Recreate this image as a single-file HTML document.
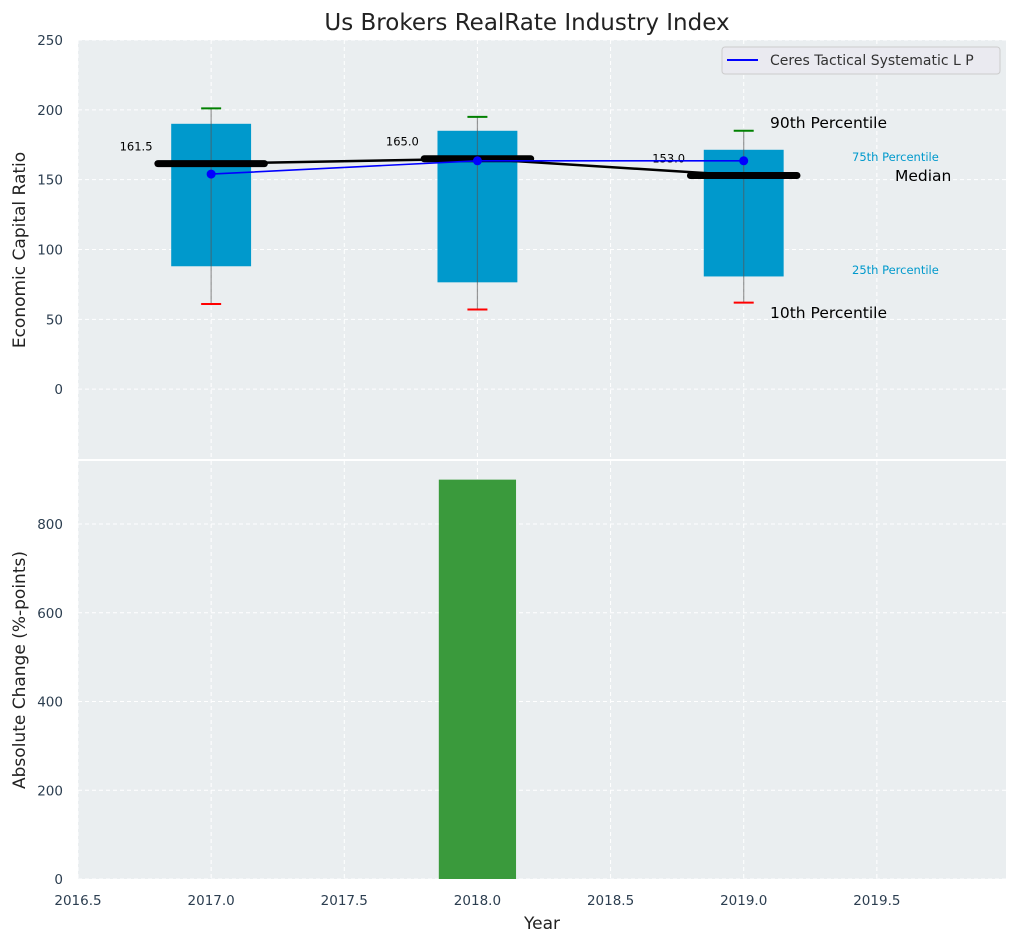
<!DOCTYPE html>
<html><head><meta charset="utf-8">
<style>
body{margin:0;background:#fff;}
svg{font-family:"DejaVu Sans","Liberation Sans",sans-serif;}
</style></head>
<body>
<svg id="chart" width="1016" height="942" xmlns="http://www.w3.org/2000/svg">
<text x="527" y="30" text-anchor="middle" font-size="23" fill="#222">Us Brokers RealRate Industry Index</text>
<g id="topg"></g>
<g id="botg"></g>
</svg>
<script>
const years=[2017,2018,2019];
const p10=[61,57,62];
const p25=[88,76.5,80.7];
const p75=[190,185,171.4];
const p90=[201,195,185];
const medians=[161.5,165.0,153.0];
const company=[154,163.5,163.5];
const changeYears=[2018];
const changeVals=[900];
const xTicks=[2016.5,2017,2017.5,2018,2018.5,2019,2019.5];
const yTopTicks=[0,50,100,150,200,250];
const yBotTicks=[0,200,400,600,800];

const NS="http://www.w3.org/2000/svg";
const X0=78,X1=1006;
const x=v=>X0+(v-2016.5)*(X1-X0)/(2019.985-2016.5);
const yT=v=>40+(250-v)*(459-40)/300;
const yB=v=>879-v*(879-461)/942;
function el(p,t,a,txt){const e=document.createElementNS(NS,t);for(const k in a)e.setAttribute(k,a[k]);if(txt!==undefined)e.textContent=txt;p.appendChild(e);return e;}
const gTop=document.getElementById('topg'),gBot=document.getElementById('botg');

let r=el(gTop,'rect',{x:X0,y:40,width:X1-X0,height:419,fill:'#eaeef0'});


r=el(gBot,'rect',{x:X0,y:461,width:X1-X0,height:418,fill:'#eaeef0'});



xTicks.forEach(t=>{
 el(gTop,'line',{x1:x(t),x2:x(t),y1:40,y2:459,stroke:'#fff','stroke-dasharray':'4,3','stroke-width':1});
 el(gBot,'line',{x1:x(t),x2:x(t),y1:461,y2:879,stroke:'#fff','stroke-dasharray':'4,3','stroke-width':1});
 const tl=el(gBot,'text',{x:x(t),y:905,'text-anchor':'middle','font-size':13.5,fill:'#2c3e50'},t.toFixed(1));
 
 
});
yTopTicks.forEach(t=>{
 el(gTop,'line',{x1:X0,x2:X1,y1:yT(t),y2:yT(t),stroke:'#fff','stroke-dasharray':'4,3'});
 const tl=el(gTop,'text',{x:63,y:yT(t)+5,'text-anchor':'end','font-size':13.5,fill:'#2c3e50'},t);
 
 
});
yBotTicks.forEach(t=>{
 el(gBot,'line',{x1:X0,x2:X1,y1:yB(t),y2:yB(t),stroke:'#fff','stroke-dasharray':'4,3'});
 const tl=el(gBot,'text',{x:63,y:yB(t)+5,'text-anchor':'end','font-size':13.5,fill:'#2c3e50'},t);
 
 
});

const bw=0.3;
years.forEach((yr,i)=>{
 const b=el(gTop,'rect',{x:x(yr-bw/2),y:yT(p75[i]),width:x(yr+bw/2)-x(yr-bw/2),height:yT(p25[i])-yT(p75[i]),fill:'#0099cc'});
 
 
 el(gTop,'line',{x1:x(yr),x2:x(yr),y1:yT(p90[i]),y2:yT(p10[i]),stroke:'#555','stroke-opacity':0.6,'stroke-width':1.2});
 el(gTop,'line',{x1:x(yr)-10,x2:x(yr)+10,y1:yT(p90[i]),y2:yT(p90[i]),stroke:'green','stroke-width':2});
 el(gTop,'line',{x1:x(yr)-10,x2:x(yr)+10,y1:yT(p10[i]),y2:yT(p10[i]),stroke:'red','stroke-width':2});
});
let pts=years.map((yr,i)=>x(yr)+','+yT(medians[i])).join(' ');
let ml=el(gTop,'polyline',{points:pts,fill:'none',stroke:'#000','stroke-width':2.5});


years.forEach((yr,i)=>{
 const m=el(gTop,'line',{x1:x(yr-0.2),x2:x(yr+0.2),y1:yT(medians[i]),y2:yT(medians[i]),stroke:'#000','stroke-width':7,'stroke-linecap':'round'});
 
 
 const t=el(gTop,'text',{x:x(yr-0.22),y:yT(medians[i])-13,'text-anchor':'end','font-size':11.5,fill:'#000'},medians[i].toFixed(1));
 
 
});
pts=years.map((yr,i)=>x(yr)+','+yT(company[i])).join(' ');
let cl=el(gTop,'polyline',{points:pts,fill:'none',stroke:'blue','stroke-width':1.6});


years.forEach((yr,i)=>{
 const c=el(gTop,'circle',{cx:x(yr),cy:yT(company[i]),r:4.5,fill:'blue'});
 
 
});
const ann=[[770,128,'90th Percentile',15.5,'#000'],[770,318,'10th Percentile',15.5,'#000'],[895,181,'Median',15.5,'#000'],[852,161,'75th Percentile',11.5,'#0099cc'],[852,274,'25th Percentile',11.5,'#0099cc']];
ann.forEach(a=>{const t=el(gTop,'text',{x:a[0],y:a[1],'font-size':a[3],fill:a[4]},a[2]);
 
 });
const lg=el(gTop,'g',{});


el(lg,'rect',{x:722,y:47,width:278,height:27,rx:3,fill:'#eaeaf0',stroke:'#ccc'});
el(lg,'line',{x1:727,x2:758,y1:60,y2:60,stroke:'blue','stroke-width':2});
el(lg,'text',{x:770,y:65,'font-size':14,fill:'#333'},'Ceres Tactical Systematic L P');

changeYears.forEach((yr,i)=>{
 const b=el(gBot,'rect',{x:x(yr-0.145),y:yB(changeVals[i]),width:x(yr+0.145)-x(yr-0.145),height:yB(0)-yB(changeVals[i]),fill:'#3a9a3c'});
 
 
});

let t=el(gTop,'text',{x:25,y:250,'text-anchor':'middle','font-size':17,fill:'#222',transform:'rotate(-90 25 250)'},'Economic Capital Ratio');


t=el(gBot,'text',{x:25,y:670,'text-anchor':'middle','font-size':17,fill:'#222',transform:'rotate(-90 25 670)'},'Absolute Change (%-points)');


t=el(gBot,'text',{x:542,y:929,'text-anchor':'middle','font-size':17,fill:'#222'},'Year');


</script>
</body></html>
